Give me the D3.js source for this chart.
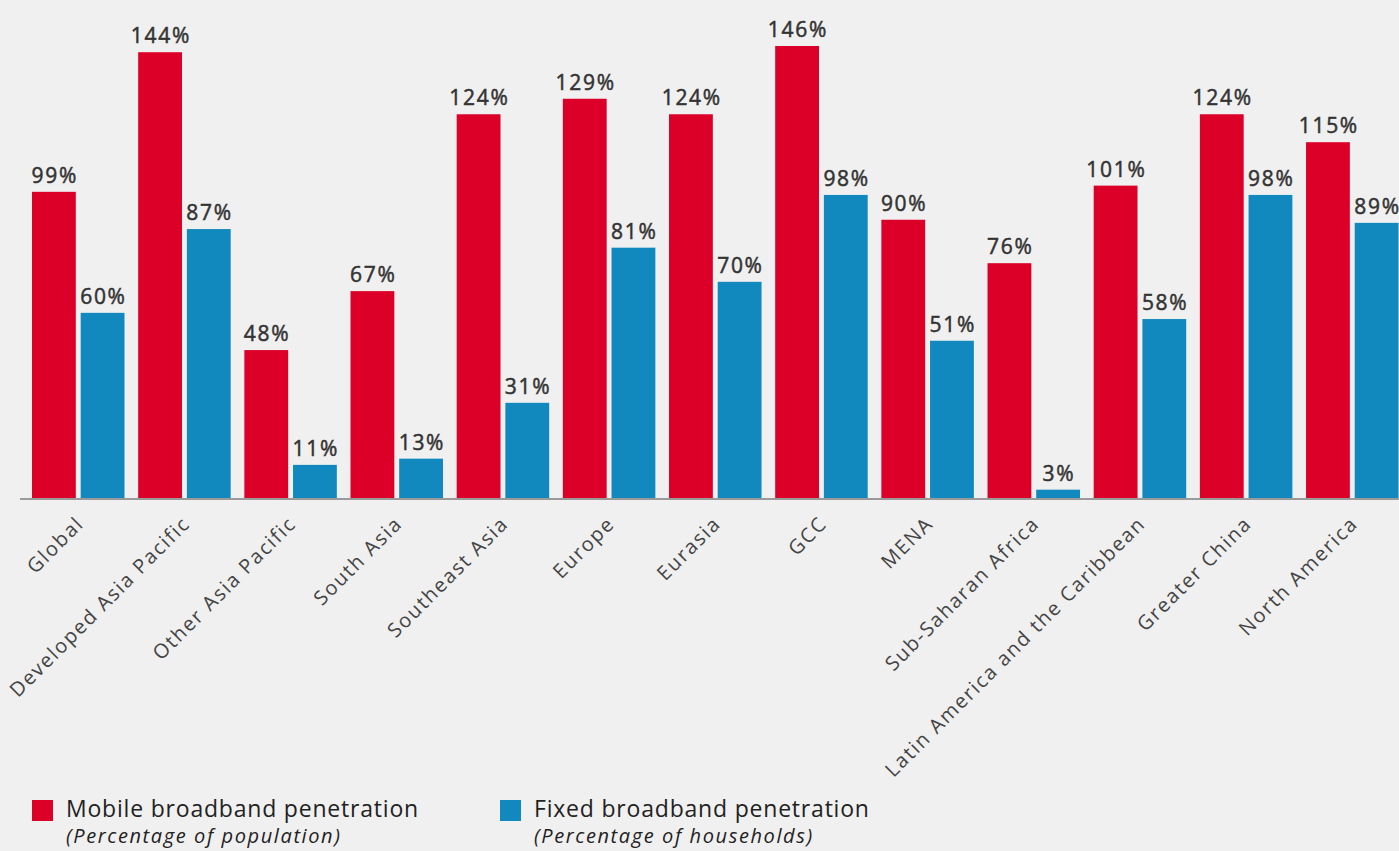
<!DOCTYPE html>
<html>
<head>
<meta charset="utf-8">
<script src="https://cdn.jsdelivr.net/npm/d3@7"></script>
<style>
  html, body { margin: 0; padding: 0; background: #f0f0f0; }
  svg { display: block; }
</style>
</head>
<body>
<svg id="chart" width="1399" height="851"></svg>
<script>
const categories = ["Global", "Developed Asia Pacific", "Other Asia Pacific", "South Asia", "Southeast Asia", "Europe", "Eurasia", "GCC", "MENA", "Sub-Saharan Africa", "Latin America and the Caribbean", "Greater China", "North America"];
const mobile = [99, 144, 48, 67, 124, 129, 124, 146, 90, 76, 101, 124, 115];
const fixed = [60, 87, 11, 13, 31, 81, 70, 98, 51, 3, 58, 98, 89];
const seriesNames = ["Mobile broadband penetration", "Fixed broadband penetration"];
const seriesNotes = ["(Percentage of population)", "(Percentage of households)"];
const seriesColors = ["#dc0029", "#1189be"];

const W = 1399, H = 851;
const baseY = 499;
const FONT = "'Open Sans', sans-serif";
const svg = d3.select("#chart");
svg.append("rect").attr("width", W).attr("height", H).attr("fill", "#f0f0f0");

const step = 106.17;
const x0 = d3.scaleBand().domain(categories).range([32, 32 + step * categories.length]).paddingInner(0).paddingOuter(0);
const x1 = d3.scaleBand().domain([0, 1]).range([0, 92.5]).paddingInner(0.1).paddingOuter(0);
const y = d3.scaleLinear().domain([0, 146]).range([baseY, 46]);

const data = categories.map((c, i) => ({ cat: c, vals: [mobile[i], fixed[i]] }));

const g = svg.append("g");
const groups = g.selectAll("g.grp").data(data).join("g").attr("class", "grp")
  .attr("transform", d => `translate(${x0(d.cat)},0)`);

groups.selectAll("rect").data(d => d.vals.map((v, k) => ({ v, k })))
  .join("rect")
  .attr("x", d => x1(d.k))
  .attr("width", x1.bandwidth())
  .attr("y", d => y(d.v))
  .attr("height", d => baseY - y(d.v))
  .attr("fill", d => seriesColors[d.k]);

const valLS = 1.7;
groups.selectAll("text.val").data(d => d.vals.map((v, k) => ({ v, k })))
  .join("text")
  .attr("class", "val")
  .attr("x", d => x1(d.k) + x1.bandwidth() / 2 + valLS / 2)
  .attr("y", d => y(d.v) - 9)
  .attr("text-anchor", "middle")
  .attr("font-family", FONT)
  .attr("font-size", 21)
  .attr("font-weight", 400)
  .attr("letter-spacing", valLS)
  .attr("fill", "#333")
  .attr("stroke", "#333")
  .attr("stroke-width", 0.5)
  .text(d => d.v + "%");

// baseline
g.append("line").attr("x1", 20).attr("x2", W).attr("y1", baseY).attr("y2", baseY)
  .attr("stroke", "#9a9a9a").attr("stroke-width", 2);

// category labels
svg.append("g").selectAll("text").data(categories).join("text")
  .attr("transform", c => `translate(${x0(c) + 53},${baseY + 26}) rotate(-45)`)
  .attr("text-anchor", "end")
  .attr("font-family", FONT)
  .attr("font-size", 20)
  .attr("letter-spacing", 1.7)
  .attr("fill", "#444")
  .text(c => c);

// legend
const legX = [32, 500];
const leg = svg.append("g").selectAll("g").data(seriesNames).join("g")
  .attr("transform", (d, i) => `translate(${legX[i]},0)`);
leg.append("rect").attr("x", 0).attr("y", 800).attr("width", 21).attr("height", 21)
  .attr("fill", (d, i) => seriesColors[i]);
leg.append("text").attr("x", 34).attr("y", 817)
  .attr("font-family", FONT).attr("font-size", 23)
  .attr("letter-spacing", 0.8)
  .attr("fill", "#222").text(d => d);
leg.append("text").attr("x", 34).attr("y", 843)
  .attr("font-family", FONT).attr("font-size", 20)
  .attr("font-style", "italic")
  .attr("letter-spacing", 1.6)
  .attr("fill", "#222").text((d, i) => seriesNotes[i]);
</script>
</body>
</html>
